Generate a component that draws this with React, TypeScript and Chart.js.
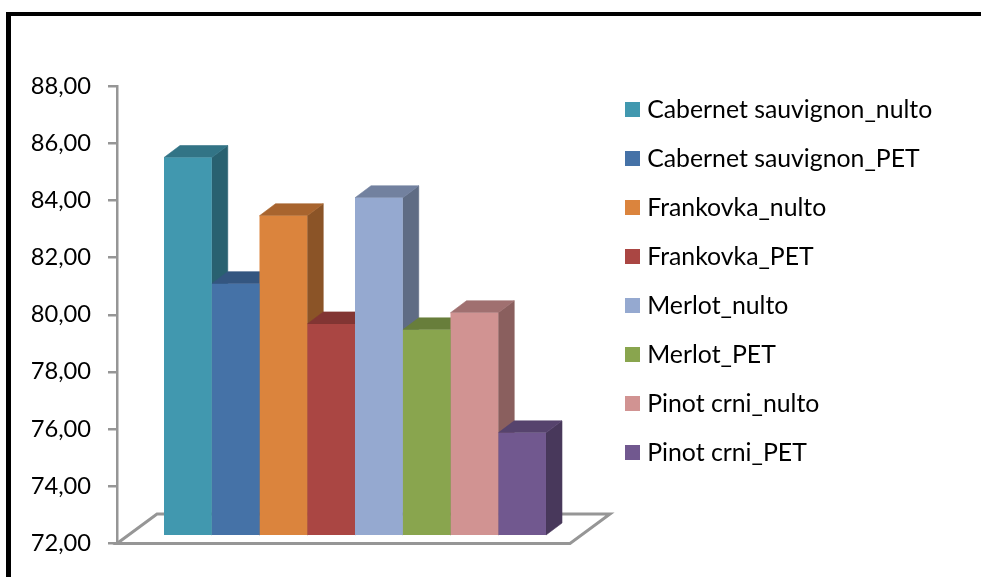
import React, { useEffect, useRef } from "react";
import { Chart, registerables } from "chart.js";

Chart.register(...registerables);

const categories = [""];
const seriesNames = [
  "Cabernet sauvignon_nulto",
  "Cabernet sauvignon_PET",
  "Frankovka_nulto",
  "Frankovka_PET",
  "Merlot_nulto",
  "Merlot_PET",
  "Pinot crni_nulto",
  "Pinot crni_PET",
];
const seriesValues = [85.23, 80.81, 83.19, 79.4, 83.82, 79.19, 79.79, 75.58];
const frontColors = ["#4198AF", "#4572A7", "#DB843D", "#AA4643", "#95A9D0", "#89A54E", "#D19392", "#71588F"];
const topColors = ["#327486", "#345680", "#A8642E", "#823533", "#72819F", "#687E3B", "#A07070", "#56436D"];
const sideColors = ["#296170", "#2C486A", "#8B5427", "#6C2C2A", "#5F6C84", "#576931", "#8A5F5E", "#48385B"];

const FONT = "Lato";
const AXIS = "#969696";
const barDepth = { x: 16, y: -12 };
const floorDepth = { x: 40, y: -29.5 };
const floorWidth = 453;

const poly = (ctx: CanvasRenderingContext2D, pts: number[][]) => {
  ctx.beginPath();
  pts.forEach(([x, y], i) => (i ? ctx.lineTo(x, y) : ctx.moveTo(x, y)));
  ctx.closePath();
};

const paintFace = (ctx: CanvasRenderingContext2D, pts: number[][], color: string) => {
  poly(ctx, pts);
  ctx.fillStyle = color;
  ctx.strokeStyle = color;
  ctx.lineWidth = 0.6;
  ctx.fill();
  ctx.stroke();
};

const scene3d = {
  id: "scene3d",
  beforeLayout(chart: any) {
    const legend = chart.legend;
    if (legend && !legend.__wrapped) {
      const fit = legend.fit;
      legend.fit = function () {
        fit.call(this);
        this.width = 388;
      };
      legend.__wrapped = true;
    }
  },
  afterLayout(chart: any) {
    const legend = chart.legend;
    legend.left = 606.6;
    legend.top = 73.1;
  },
  beforeDatasetsDraw(chart: any) {
    const { ctx, chartArea } = chart;
    const x0 = chartArea.left;
    const y0 = chartArea.bottom + 0.5;
    ctx.save();
    poly(ctx, [
      [x0, y0],
      [x0 + floorDepth.x, y0 + floorDepth.y],
      [x0 + floorWidth + floorDepth.x, y0 + floorDepth.y],
      [x0 + floorWidth, y0],
    ]);
    ctx.fillStyle = "#ffffff";
    ctx.fill();
    ctx.strokeStyle = AXIS;
    ctx.lineWidth = 3;
    ctx.stroke();
    chart.data.datasets.forEach((_: any, i: number) => {
      const bar = chart.getDatasetMeta(i).data[0];
      if (!bar) return;
      const l = bar.x - bar.width / 2;
      const r = bar.x + bar.width / 2;
      const t = bar.y;
      const b = bar.base;
      const dx = barDepth.x;
      const dy = barDepth.y;
      paintFace(ctx, [[r, t], [r + dx, t + dy], [r + dx, b + dy], [r, b]], sideColors[i]);
      paintFace(ctx, [[l, t], [l + dx, t + dy], [r + dx, t + dy], [r, t]], topColors[i]);
    });
    ctx.restore();
  },
};

const swatch = (color: string) => {
  const c = document.createElement("canvas");
  c.width = 15;
  c.height = 15;
  const g = c.getContext("2d")!;
  g.fillStyle = color;
  g.fillRect(0, 0, 15, 15);
  return c;
};

export default function App() {
  const ref = useRef<HTMLCanvasElement>(null);
  useEffect(() => {
    const chart = new Chart(ref.current!, {
      type: "bar",
      data: {
        labels: categories,
        datasets: seriesNames.map((name, i) => ({
          label: name,
          data: [seriesValues[i]],
          backgroundColor: frontColors[i],
          borderWidth: 0,
          yAxisID: "yBars",
          base: 72,
          barPercentage: 1,
          categoryPercentage: 0.8025,
        })),
      },
      plugins: [scene3d],
      options: {
        responsive: false,
        animation: false,
        layout: { padding: { top: 86.5, bottom: 34, left: 0, right: 0 } },
        scales: {
          x: { display: false },
          y: {
            position: "left",
            min: 72,
            max: 88,
            afterFit(scale: any) {
              scale.width = 117;
            },
            border: { color: AXIS, width: 2.5 },
            grid: { drawOnChartArea: false, tickLength: 9, color: AXIS, lineWidth: 2.5 },
            ticks: {
              stepSize: 2,
              padding: 17,
              color: "#000000",
              font: { family: FONT, size: 23.7 },
              callback: (v: any) => Number(v).toFixed(2).replace(".", ","),
            },
          },
          yBars: { display: false, min: 71.72, max: 87.72 },
        },
        plugins: {
          tooltip: { enabled: false },
          legend: {
            display: true,
            position: "right",
            align: "start",
            labels: {
              usePointStyle: true,
              boxHeight: 4,
              boxWidth: 4,
              padding: 24.2,
              color: "#000000",
              font: { family: FONT, size: 24.8 },
              generateLabels: () =>
                seriesNames.map((name, i) => ({
                  text: name,
                  datasetIndex: i,
                  fillStyle: frontColors[i],
                  strokeStyle: frontColors[i],
                  lineWidth: 0,
                  pointStyle: swatch(frontColors[i]) as any,
                })),
            },
          },
        },
      } as any,
    });
    return () => chart.destroy();
  }, []);
  return (
    <div style={{ position: "absolute", left: 0, top: 0, width: 981, height: 577, background: "#fff", overflow: "hidden" }}>
      <canvas ref={ref} width={981} height={577} style={{ display: "block" }} />
      <div
        style={{
          position: "absolute",
          left: 6,
          top: 12,
          right: 0,
          bottom: 0,
          borderLeft: "5px solid #000",
          borderTop: "4px solid #000",
        }}
      />
    </div>
  );
}
